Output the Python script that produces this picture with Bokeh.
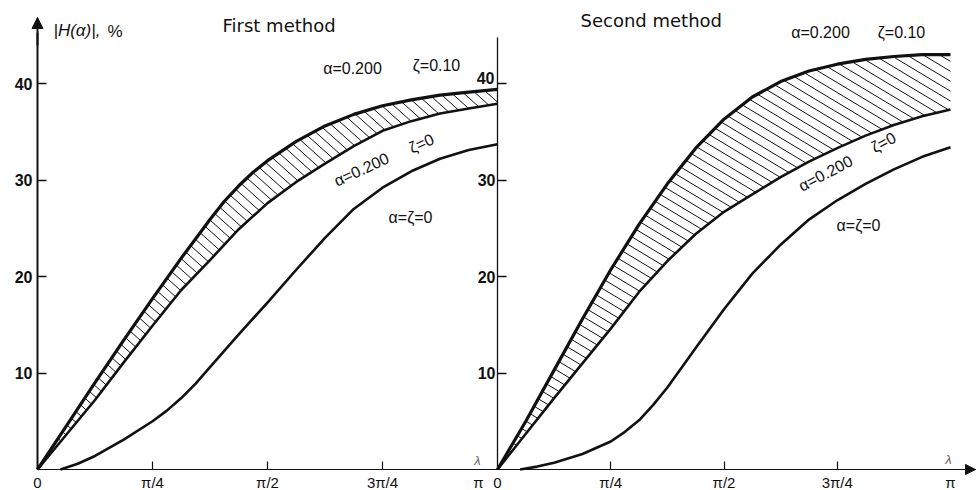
import numpy as np
from bokeh.plotting import figure
from bokeh.models import Range1d, LinearAxis, FixedTicker, Arrow, NormalHead
from bokeh.core.properties import value
from bokeh.embed import file_html
from bokeh.resources import INLINE

# ---------------- data (lambda in units of pi/4, |H| in %) ----------------
lam_1u = [0, 0.25, 0.5, 0.75, 1.0, 1.25, 1.5, 1.625, 1.75, 1.875, 2.0, 2.25, 2.5, 2.75, 3.0, 3.25, 3.5, 3.75, 4.0]
first_a02_z010 = [0, 4.5, 9.0, 13.4, 17.7, 21.9, 25.9, 27.8, 29.4, 30.8, 32.0, 34.0, 35.6, 36.8, 37.7, 38.3, 38.8, 39.1, 39.4]
lam = [0, 0.25, 0.5, 0.75, 1.0, 1.25, 1.5, 1.75, 2.0, 2.25, 2.5, 2.75, 3.0, 3.25, 3.5, 3.75, 4.0]
first_a02_z0 = [0, 3.6, 7.2, 11.1, 14.9, 18.6, 21.7, 24.9, 27.6, 29.8, 31.7, 33.5, 35.1, 36.1, 36.9, 37.4, 37.9]
second_a02_z010 = [0, 5.0, 10.3, 15.6, 20.7, 25.4, 29.6, 33.3, 36.3, 38.6, 40.2, 41.3, 42.0, 42.5, 42.8, 43.0, 43.0]
second_a02_z0 = [0, 3.7, 7.4, 11.0, 14.6, 18.4, 21.6, 24.4, 26.7, 28.5, 30.3, 31.9, 33.3, 34.6, 35.7, 36.6, 37.3]

lam_base_1 = [0.2, 0.35, 0.5, 0.75, 1.0, 1.125, 1.25, 1.375, 1.5, 1.75, 2.0, 2.25, 2.5, 2.75, 3.0, 3.25, 3.5, 3.75, 4.0]
first_a0_z0 = [0, 0.6, 1.4, 3.1, 5.0, 6.1, 7.4, 8.9, 10.6, 14.0, 17.3, 20.7, 24.0, 27.0, 29.2, 30.9, 32.2, 33.1, 33.7]
lam_base_2 = [0.2, 0.35, 0.5, 0.75, 1.0, 1.125, 1.25, 1.375, 1.5, 1.75, 2.0, 2.25, 2.5, 2.75, 3.0, 3.25, 3.5, 3.75, 4.0]
second_a0_z0 = [0, 0.3, 0.7, 1.6, 2.9, 3.9, 5.1, 6.7, 8.5, 12.6, 16.6, 20.3, 23.3, 25.9, 27.9, 29.6, 31.1, 32.4, 33.4]

y_ticks = [10, 20, 30, 40]
x_tick_labels = ["0", "π/4", "π/2", "3π/4", "π"]

# ---------------- geometry (reference picture pixels) ----------------
W, H = 976, 490
X0L, PXL = 37, 115.0          # left panel: lambda=0 position, px per pi/4
X0R, PXR = 497, 113.25        # right panel
Y0, PY = 469, 9.65            # |H|=0 position, px per 1 %


def dx(px):
    return (px - X0L) / PXL


def dy(py):
    return (Y0 - py) / PY


def r2l(u):
    """right-panel lambda (pi/4 units) -> default x coordinate"""
    return (X0R + u * PXR - X0L) / PXL


x_range = Range1d(-X0L / PXL, (W - X0L) / PXL)
y_range = Range1d((Y0 - H) / PY, Y0 / PY)

p = figure(width=W, height=H, x_range=x_range, y_range=y_range,
           x_axis_type=None, y_axis_type=None, output_backend="svg",
           toolbar_location=None, min_border=0, outline_line_color=None,
           background_fill_color="white", border_fill_color="white")
p.extra_x_ranges = {"right": Range1d(-X0R / PXR, (W - X0R) / PXR)}

INK = "#111111"
FONT = value("Liberation Sans")


# ---------------- axes ----------------
def y_axis(**kw):
    return LinearAxis(fixed_location=0, ticker=FixedTicker(ticks=y_ticks),
                      major_tick_in=9, major_tick_out=0, minor_tick_in=0, minor_tick_out=0,
                      axis_line_color=INK, major_tick_line_color=INK,
                      major_label_text_font="Liberation Sans", major_label_text_font_size="16px",
                      major_label_text_font_style="bold", major_label_text_color=INK, **kw)


yl = y_axis(bounds=(0, dy(32)), axis_line_width=2, major_tick_line_width=1.5, major_label_standoff=5)
p.add_layout(yl, "left")
# the top label of the second panel sits a little higher in the original; drawn separately below
yr = y_axis(x_range_name="right", bounds=(0, dy(37)), axis_line_width=1.3,
            major_tick_line_width=1.3, major_label_standoff=2,
            major_label_overrides={y_ticks[-1]: ""})
p.add_layout(yr, "left")

label_pos = [0.0, 1.0, 2.0, 3.0, dx(478)] + [r2l(k) for k in range(5)]
label_txt = x_tick_labels + x_tick_labels
mark_pos = [1.0, 2.0, 3.0] + [r2l(k) for k in (1, 2, 3)]
xa = LinearAxis(fixed_location=0, bounds=(0, x_range.end),
                ticker=FixedTicker(ticks=label_pos, minor_ticks=mark_pos),
                major_tick_in=0, major_tick_out=0, minor_tick_in=8, minor_tick_out=0,
                axis_line_color=INK, axis_line_width=1.2, minor_tick_line_color=INK,
                minor_tick_line_width=1.2,
                major_label_overrides={v: t for v, t in zip(label_pos, label_txt)},
                major_label_standoff=4, major_label_text_font="Liberation Sans",
                major_label_text_font_size="15px", major_label_text_color=INK)
p.add_layout(xa, "below")

p.add_layout(Arrow(end=NormalHead(size=11, fill_color=INK, line_color=INK),
                   x_start=0, y_start=dy(45), x_end=0, y_end=dy(17),
                   line_width=2, line_color=INK))
p.add_layout(Arrow(end=NormalHead(size=10, fill_color=INK, line_color=INK),
                   x_start=dx(930), y_start=0, x_end=dx(975), y_end=0,
                   line_width=1.2, line_color=INK))


# ---------------- hatching between the alpha=0.2 curves ----------------
def hatch(xu, up, xl, lo, pxu, angle_deg, gap):
    a = np.radians(angle_deg)
    X = np.linspace(0, 4, 4001)
    U = np.interp(X, xu, up) * PY
    L = np.interp(X, xl, lo) * PY
    XP = X * pxu
    ta = np.tan(a)
    step = gap / np.cos(a)
    cmax = U[-1] + XP[-1] * ta
    x0, y0, x1, y1 = [], [], [], []
    for c in np.arange(step * 0.6, cmax, step):
        line = c - XP * ta
        above = np.nonzero(U >= line)[0]
        if len(above) == 0:
            continue
        i = above[0]
        below = np.nonzero(L[i:] >= line[i:])[0]
        j = i + below[0] if len(below) else len(X) - 1
        if j <= i:
            continue
        x0.append(X[i]); y0.append(line[i] / PY)
        x1.append(X[j]); y1.append(line[j] / PY)
    return x0, y0, x1, y1


hx0, hy0, hx1, hy1 = hatch(lam_1u, first_a02_z010, lam, first_a02_z0, PXL, 42, 8.0)
p.segment(x0=hx0, y0=hy0, x1=hx1, y1=hy1, line_color=INK, line_width=1)
hx0, hy0, hx1, hy1 = hatch(lam, second_a02_z010, lam, second_a02_z0, PXR, 31, 8.5)
p.segment(x0=hx0, y0=hy0, x1=hx1, y1=hy1, line_color=INK, line_width=1, x_range_name="right")

# ---------------- curves ----------------
p.line(lam_1u, first_a02_z010, line_color=INK, line_width=3.2, line_join="round")
p.line(lam, first_a02_z0, line_color=INK, line_width=2.6, line_join="round")
p.line(lam_base_1, first_a0_z0, line_color=INK, line_width=2.6, line_join="round")
p.line(lam, second_a02_z010, line_color=INK, line_width=3.2, line_join="round", x_range_name="right")
p.line(lam, second_a02_z0, line_color=INK, line_width=2.6, line_join="round", x_range_name="right")
p.line(lam_base_2, second_a0_z0, line_color=INK, line_width=2.6, line_join="round", x_range_name="right")


# ---------------- texts ----------------
def txt(px, py, s, size="16px", align="center", angle=0.0, style="normal", font=FONT, color=INK):
    p.text(x=[dx(px)], y=[dy(py)], text=[s], angle=angle, angle_units="deg",
           text_align=align, text_baseline="middle", text_font=font,
           text_font_size=size, text_font_style=style, text_color=color)


txt(53, 30, "|H(α)|,", size="17px", align="left", style="italic")
txt(107, 31, "%", size="17px", align="left")
txt(222, 25, "First method", size="18px", align="left", font=value("DejaVu Sans"))
txt(580, 20, "Second method", size="18px", align="left", font=value("DejaVu Sans"))

txt(494, 77, str(y_ticks[-1]), align="right", style="bold")

txt(352, 68, "α=0.200")
txt(436, 65, "ζ=0.10")
txt(361, 169, "α=0.200", angle=24.7)
txt(421, 143, "ζ=0", angle=24.7)
txt(410, 217, "α=ζ=0")

txt(820, 32, "α=0.200")
txt(901, 32, "ζ=0.10")
txt(825, 173, "α=0.200", angle=27.8)
txt(883, 142, "ζ=0", angle=27.8)
txt(858, 225, "α=ζ=0")

txt(477, 460, "λ", size="13px", style="italic", color="#666666")
txt(948, 459, "λ", size="13px", style="italic", color="#666666")

open("out.html", "w").write(file_html(p, INLINE))
